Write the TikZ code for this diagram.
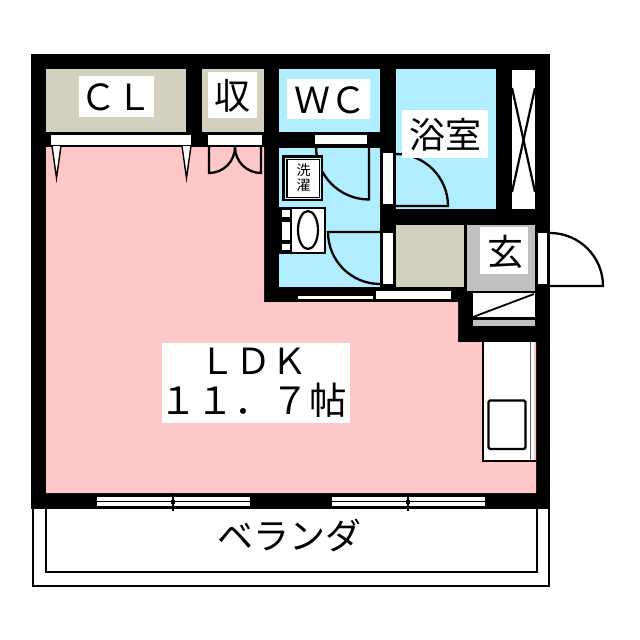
\documentclass[tikz,border=0pt]{standalone}
\usepackage{fontspec}
\setmainfont{Noto Sans CJK JP}
\definecolor{pinkroom}{HTML}{FFC8C8}
\definecolor{blueroom}{HTML}{B0EEFF}
\definecolor{beigeroom}{HTML}{D4D0C0}
\definecolor{grayroom}{HTML}{C0C0C0}
\tikzset{
  x=1pt,y=-1pt,
  wline/.style={draw=black,line width=2.3pt},
  thinl/.style={draw=black,line width=1.6pt},
  lab/.style={inner sep=0pt,font=\fontsize{36}{40}\selectfont,text=black},
}
\begin{document}
\begin{tikzpicture}
\useasboundingbox (0,0) rectangle (640,640);
\fill[white] (0,0) rectangle (640,640);
% balcony
\draw[line width=2pt] (33,505) -- (33,585.5) -- (549,585.5) -- (549,505);
\draw[line width=2.6pt] (46,505) -- (46,572) -- (537,572) -- (537,505);
% walls
\fill[black] (31,54) rectangle (550,509);
% rooms
\fill[pinkroom] (46,147) -- (264,147) -- (264,302) -- (458,302) -- (458,342) -- (536,342) -- (536,493) -- (46,493) -- cycle;
\fill[beigeroom] (46,69) rectangle (186,132);
\fill[beigeroom] (202,69) rectangle (264,132);
\fill[blueroom] (279,69) rectangle (380,132);
\fill[blueroom] (396,69) rectangle (496,209);
\fill[blueroom] (279,148) rectangle (380,287);
\fill[beigeroom] (396,225) rectangle (464,287);
\fill[grayroom] (467,225) rectangle (535,291);
\fill[white] (512,70) rectangle (535,209);
% X closet
\draw[line width=2.2pt] (512,88) -- (535,192);
\draw[line width=2.2pt] (535,88) -- (512,192);
% closet bars and doors
\fill[white] (51,135) rectangle (191,145);
\fill[white] (208,135) rectangle (262,145);
\filldraw[fill=white,draw=black,line width=1.4pt] (52,146) -- (56.5,178) -- (61,146);
\filldraw[fill=white,draw=black,line width=1.4pt] (182,146) -- (186.5,178) -- (191,146);
\draw[wline] (209,146) -- (209,173) arc[start angle=90,end angle=0,radius=26];
\draw[wline] (261,146) -- (261,173) arc[start angle=90,end angle=180,radius=26];
% door bars
\fill[white] (315,135) rectangle (367,144);
\fill[white] (383,153) rectangle (393,204);
\fill[white] (383,233) rectangle (393,284);
\fill[white] (538,233) rectangle (547,284);
\fill[white] (298,296) rectangle (373,299);
\fill[white] (376,291) rectangle (451,299);
% doors
\draw[wline] (369,144) -- (369,199.5) arc[start angle=90,end angle=180,radius=53] -- (315,145);
\draw[wline] (396,206) -- (448,206) arc[start angle=0,end angle=-90,radius=52];
\draw[wline] (380,232) -- (328,232) arc[start angle=180,end angle=90,radius=52];
\draw[wline] (550,233) arc[start angle=-90,end angle=0,radius=53] -- (550,286);
% washer
\fill[black] (282,155) rectangle (323,201);
\draw[line width=0.8pt,draw=blueroom!60!white] (285.5,158.5) rectangle (320.5,198.5);
\fill[white] (288,160) rectangle (319,197);
\node[inner sep=0pt,font=\fontsize{14}{15}\selectfont] (wash1) at (303.5,170) {洗};
\node[inner sep=0pt,font=\fontsize{14}{15}\selectfont] (wash2) at (303.5,185) {濯};
% basin
\fill[black] (279,207) rectangle (325.5,254);
\fill[white] (292,209) rectangle (323.5,252);
\fill[white] (282,210) rectangle (290,217);
\fill[white] (282,222) rectangle (290,240);
\fill[white] (282,244) rectangle (290,250);
\draw[line width=2.2pt] (308,230) ellipse[x radius=10,y radius=19];
% meter cupboard
\fill[white] (473,293) rectangle (535,317);
\draw[line width=1.8pt] (473,317) -- (534,294);
\fill[grayroom] (473,320) rectangle (535,326);
% kitchen
\fill[white] (483,342) rectangle (534,461);
\draw[thinl] (483,342) -- (483,461) -- (536,461);
\draw[line width=1.5pt,draw=black!60] (530.5,342) -- (530.5,460);
\draw[line width=2.2pt,rounded corners=1.5pt] (488.5,400.5) rectangle (525.5,449);
% windows
\fill[white] (97,497) rectangle (250,501);
\fill[white] (97,502) rectangle (250,506);
\fill[white] (332,497) rectangle (485,501);
\fill[white] (332,502) rectangle (485,506);
\fill[black] (172,493) rectangle (174,511);
\fill[black] (171,500) rectangle (175,504);
\fill[black] (407,493) rectangle (409,511);
\fill[black] (406,500) rectangle (410,504);
% labels
\fill[white] (79,76) rectangle (154,117);
\fill[white] (208,72) rectangle (257,118);
\fill[white] (287,79) rectangle (370,119);
\fill[white] (402,110) rectangle (488,158);
\fill[white] (480,227) rectangle (528,274);
\fill[white] (162,343) rectangle (350,423);
\node[lab] (cl) at (116.5,97) {ＣＬ};
\node[lab] (shu) at (232.5,96) {収};
\node[lab] (wc) at (330,100) {ＷＣ};
\node[lab] (bath) at (445,135) {浴室};
\node[lab] (gen) at (505,252) {玄};
\node[lab] (ldk) at (253,361) {ＬＤＫ};
\node[lab,font=\fontsize{37.5}{40}\selectfont] (size) at (253,400) {１１．７帖};
\node[lab] (ver) at (289,535) {ベランダ};
\end{tikzpicture}
\end{document}
